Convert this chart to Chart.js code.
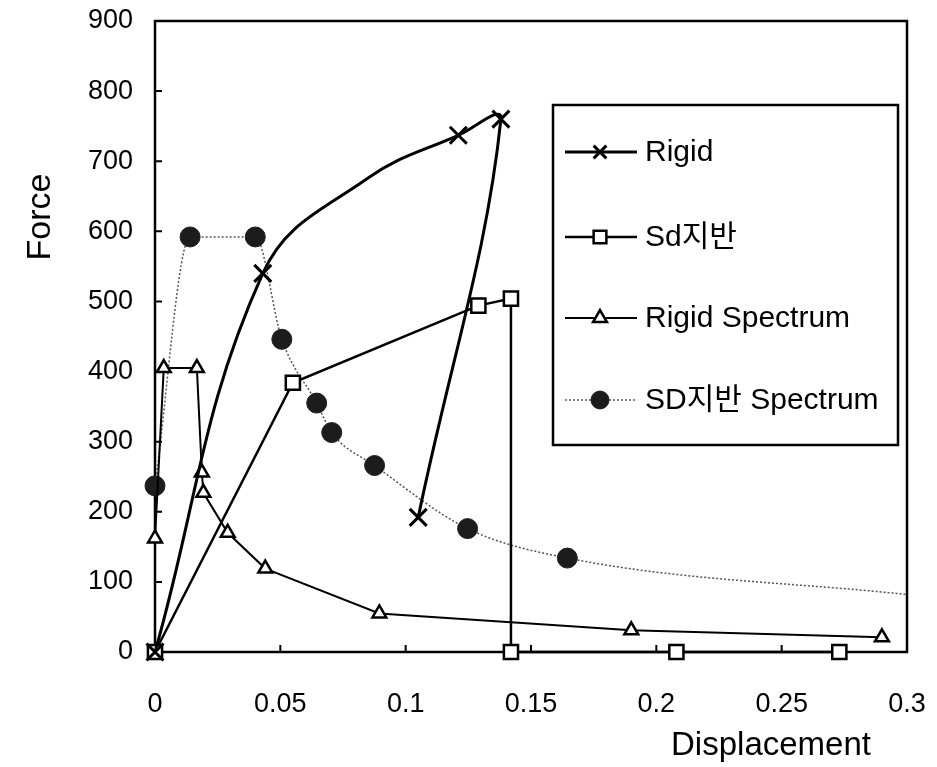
<!DOCTYPE html>
<html lang="ko">
<head>
<meta charset="UTF-8">
<title>Force - Displacement</title>
<script src="https://cdn.jsdelivr.net/npm/chart.js"></script>
<style>
  html, body { margin: 0; padding: 0; background: #fff; }
  #wrap { width: 937px; height: 767px; }
</style>
</head>
<body>
<div id="wrap"><canvas id="chart" width="937" height="767"></canvas></div>
<script>
// values
const seriesNames = ['Rigid', 'Sd지반', 'Rigid Spectrum', 'SD지반 Spectrum'];

// 3rd Rigid point is a spot on the drawn curve (no marker there)
const rigidX = [0, 0.043, 0.085, 0.121, 0.138, 0.105];
const rigidY = [0, 540, 676, 737, 760, 192];
const rigidMarked = [1, 1, 0, 1, 1, 1];

const sdX = [0, 0.055, 0.129, 0.142, 0.142, 0.208, 0.273];
const sdY = [0, 384, 494, 504, 0, 0, 0];

const rigidSpecX = [0, 0.0035, 0.0167, 0.0187, 0.0193, 0.029, 0.044, 0.0895, 0.19, 0.29];
const rigidSpecY = [162, 405, 405, 256, 227, 170, 119, 55, 31, 21];

// last point is where the dotted line meets the right axis
const sdSpecX = [0, 0.014, 0.04, 0.0506, 0.0645, 0.0705, 0.0876, 0.1247, 0.1645, 0.3];
const sdSpecY = [237, 592, 592, 446, 355, 313, 266, 176, 134, 82];

const xTicks = [0, 0.05, 0.1, 0.15, 0.2, 0.25, 0.3];
const yTicks = [0, 100, 200, 300, 400, 500, 600, 700, 800, 900];

const FONT = '"Liberation Sans", Arial, "Noto Sans CJK KR", sans-serif';

const pts = (xs, ys) => xs.map((x, i) => ({ x: x, y: ys[i] }));

// legend drawn inside the plot, like the original
const legendRadius = [9, 9, 8, 9];
const boxLegend = {
  id: 'boxLegend',
  afterDatasetsDraw(chart) {
    const { ctx, chartArea: a } = chart;
    const x0 = a.left + 398, y0 = a.top + 84, w = 345, h = 340;
    const rows = [47, 132, 213, 295];
    ctx.save();
    ctx.fillStyle = '#fff';
    ctx.fillRect(x0, y0, w, h);
    ctx.lineWidth = 2.5;
    ctx.strokeStyle = '#000';
    ctx.strokeRect(x0, y0, w, h);
    ctx.beginPath();
    ctx.rect(x0, y0, w - 2, h);
    ctx.clip();
    chart.data.datasets.forEach((ds, i) => {
      const y = y0 + rows[i];
      ctx.setLineDash(ds.borderDash || []);
      ctx.lineWidth = ds.borderWidth;
      ctx.strokeStyle = ds.borderColor;
      ctx.beginPath();
      ctx.moveTo(x0 + 12, y);
      ctx.lineTo(x0 + 84, y);
      ctx.stroke();
      ctx.setLineDash([]);
      ctx.fillStyle = ds.pointBackgroundColor;
      ctx.strokeStyle = ds.pointBorderColor;
      ctx.lineWidth = ds.pointBorderWidth;
      Chart.helpers.drawPoint(ctx, {
        pointStyle: ds.pointStyle, radius: legendRadius[i],
        borderWidth: ds.pointBorderWidth, rotation: 0
      }, x0 + 47, y);
      ctx.fillStyle = '#000';
      ctx.font = '30px ' + FONT;
      ctx.textAlign = 'left';
      ctx.textBaseline = 'middle';
      ctx.fillText(ds.label, x0 + 92, y + 1);
    });
    ctx.restore();
  }
};

// box around the plot + inward tick marks
const frame = {
  id: 'frame',
  beforeDatasetsDraw(chart) {
    const { ctx, chartArea: a, scales } = chart;
    ctx.save();
    ctx.strokeStyle = '#000';
    ctx.lineWidth = 2.5;
    ctx.strokeRect(a.left, a.top, a.width, a.height);
    ctx.lineWidth = 2;
    ctx.beginPath();
    scales.y.ticks.forEach(t => {
      const py = scales.y.getPixelForValue(t.value);
      ctx.moveTo(a.left, py);
      ctx.lineTo(a.left + 7, py);
    });
    scales.x.ticks.forEach(t => {
      const px = scales.x.getPixelForValue(t.value);
      ctx.moveTo(px, a.bottom);
      ctx.lineTo(px, a.bottom - 7);
    });
    ctx.stroke();
    ctx.restore();
  },
  afterDraw(chart) {
    const { ctx, chartArea: a } = chart;
    ctx.save();
    ctx.fillStyle = '#000';
    ctx.textAlign = 'center';
    ctx.textBaseline = 'alphabetic';
    ctx.font = '33px ' + FONT;
    ctx.fillText('Displacement', a.right - 136, a.bottom + 103);
    ctx.translate(a.left - 105, a.top + 196);
    ctx.rotate(-Math.PI / 2);
    ctx.font = '34px ' + FONT;
    ctx.fillText('Force', 0, 0);
    ctx.restore();
  }
};

new Chart(document.getElementById('chart'), {
  type: 'scatter',
  data: {
    datasets: [
      {
        label: seriesNames[0],
        data: pts(rigidX, rigidY),
        showLine: true,
        tension: 0.4,
        borderColor: '#000',
        borderWidth: 3,
        pointStyle: 'crossRot',
        pointRadius: rigidMarked.map(m => m ? 12 : 0),
        pointBorderWidth: 3,
        pointBackgroundColor: '#000',
        pointBorderColor: '#000',
        clip: false
      },
      {
        label: seriesNames[1],
        data: pts(sdX, sdY),
        showLine: true,
        tension: 0,
        borderColor: '#000',
        borderWidth: 2.5,
        pointStyle: 'rect',
        pointRadius: 10,
        pointBorderWidth: 2.5,
        pointBackgroundColor: '#fff',
        pointBorderColor: '#000',
        clip: false
      },
      {
        label: seriesNames[2],
        data: pts(rigidSpecX, rigidSpecY),
        showLine: true,
        tension: 0,
        borderColor: '#000',
        borderWidth: 2,
        pointStyle: 'triangle',
        pointRadius: 8,
        pointBorderWidth: 2.5,
        pointBackgroundColor: '#fff',
        pointBorderColor: '#000',
        clip: false
      },
      {
        label: seriesNames[3],
        data: pts(sdSpecX, sdSpecY),
        showLine: true,
        cubicInterpolationMode: 'monotone',
        borderColor: '#555',
        borderWidth: 1.5,
        borderDash: [2, 2],
        pointStyle: 'circle',
        pointRadius: sdSpecX.map((_, i) => i === sdSpecX.length - 1 ? 0 : 10),
        pointBorderWidth: 1,
        pointBackgroundColor: '#1c1c1c',
        pointBorderColor: '#1c1c1c',
        clip: false
      }
    ]
  },
  options: {
    responsive: false,
    animation: false,
    layout: { padding: { top: 21, right: 30, left: 0, bottom: 0 } },
    plugins: {
      legend: { display: false },
      tooltip: { enabled: false }
    },
    scales: {
      x: {
        type: 'linear',
        min: 0,
        max: 0.3,
        afterBuildTicks: s => { s.ticks = xTicks.map(v => ({ value: v })); },
        afterFit: s => {
          s.height = 115;
          s.paddingLeft = 0;
          s.paddingRight = 0;
        },
        grid: { display: false, drawTicks: false },
        border: { display: false },
        ticks: {
          color: '#000',
          padding: 36,
          maxRotation: 0,
          font: { family: FONT, size: 27 },
          callback: v => String(Number(v.toFixed(2)))
        }
      },
      y: {
        type: 'linear',
        min: 0,
        max: 900,
        afterBuildTicks: s => { s.ticks = yTicks.map(v => ({ value: v })); },
        afterFit: s => {
          s.width = 155;
          s.paddingTop = 0;
          s.paddingBottom = 0;
        },
        grid: { display: false, drawTicks: false },
        border: { display: false },
        ticks: {
          color: '#000',
          padding: 22,
          font: { family: FONT, size: 27 }
        }
      }
    }
  },
  plugins: [frame, boxLegend]
});
</script>
</body>
</html>
